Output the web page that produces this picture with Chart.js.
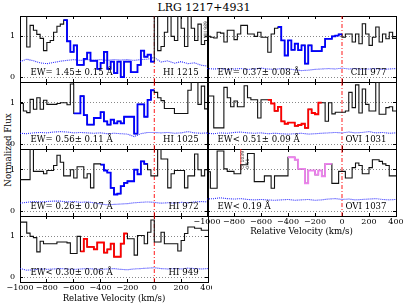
<!DOCTYPE html>
<html><head><meta charset="utf-8">
<script src="https://cdn.jsdelivr.net/npm/chart.js@4/dist/chart.umd.min.js"></script>
<style>
body{margin:0;background:#fff;}
#wrap{position:relative;width:407px;height:305px;overflow:hidden;font-family:"DejaVu Serif",serif;background:#fff;}
canvas{position:absolute;}
#title{position:absolute;left:0;top:1px;width:408px;text-align:center;font-size:11px;line-height:13px;color:#000;}
#ylab{position:absolute;left:-52px;top:144px;width:120px;height:12px;line-height:12px;text-align:center;font-size:8.7px;transform:rotate(-90deg);color:#000;}
</style></head>
<body><div id="wrap">
<div id="title">LRG 1217+4931</div>
<div id="ylab">Normalized Flux</div>
</div>
<script>
// ---- data ----
const velStart = -1000, velEnd = 400, binWidth = 25, errStep = 50;
const yMin = -0.12, yMax = 1.5;
const xTicks = [-1000,-800,-600,-400,-200,0,200,400];
const yTicks = [0,1];

const fluxHI1215 = [1.6,1.6,0.74,1.27,1.15,1.05,0.95,0.65,0.85,0.9,1.1,1.25,1.3,1.4,0.88,0.62,0.78,0.3,0.3,0.45,0.6,0.4,0.4,0.2,0.35,0.62,0.2,0.38,0.1,0.38,0.0,0.38,0.38,0.12,0.12,0.3,0.65,0.5,0.55,0.38,1.6,0.65,0.75,1.1,1.55,1.0,0.9,1.55,1.2,0.75,1.55,1.2,0.9,1.3,0.8,0.9];
const fluxHI1025 = [0.98,0.8,0.76,1.08,0.84,1.12,0.84,1.06,0.96,0.96,0.96,0.98,1.0,1.0,0.95,1.45,0.74,0.74,1.16,0.7,0.47,0.47,0.63,0.63,0.77,0.55,0.47,0.59,0.5,0.55,0.5,0.66,0.66,0.66,0.25,0.96,0.96,0.66,1.07,1.3,1.25,1.12,1.05,0.86,0.86,0.86,0.74,0.74,0.74,0.74,1.3,1.55,1.55,0.96,1.4,0.85];
const fluxHI972 = [0.76,0.76,0.76,1.5,0.96,0.96,0.96,0.9,0.98,0.98,1.1,1.35,1.18,0.85,0.85,1.0,0.8,1.07,1.07,0.8,0.9,0.56,1.14,1.14,1.12,0.98,0.93,0.56,0.4,0.42,0.6,0.68,0.72,0.72,1.0,0.89,1.2,1.14,1.0,0.85,0.85,1.5,1.26,1.26,0.56,0.9,0.98,0.98,0.98,0.56,0.85,0.85,1.38,1.0,0.85,1.0];
const fluxHI949 = [1.35,1.35,1.08,1.0,0.97,0.62,0.88,0.82,0.82,0.82,0.82,0.86,0.86,0.86,0.84,0.58,0.58,1.0,0.63,0.94,0.74,0.74,0.68,0.85,0.85,0.6,0.68,0.82,0.5,0.5,0.82,1.07,0.94,0.94,0.54,1.02,1.02,0.82,1.1,1.4,0.86,0.86,1.1,0.82,0.82,0.82,0.82,0.64,0.9,1.07,1.23,1.23,1.2,1.2,1.15,1.15];
const fluxCIII977 = [1.0,0.98,0.96,1.1,1.08,0.86,1.15,1.15,0.92,1.06,1.27,1.27,1.06,1.06,1.0,1.1,0.98,0.98,0.61,1.06,1.2,1.23,0.9,0.53,0.9,0.67,0.82,0.66,0.78,0.33,0.78,0.64,0.64,0.64,0.74,0.94,0.94,1.0,1.02,1.05,0.98,1.06,1.06,0.86,1.06,0.82,1.31,1.06,0.78,0.98,1.23,0.86,1.06,0.94,1.1,0.95];
const fluxOVI1031 = [1.16,1.16,0.39,0.39,0.39,1.37,1.12,0.9,1.04,0.9,0.9,1.41,1.12,1.07,1.07,0.63,1.07,1.07,1.07,0.98,0.8,0.9,0.55,0.49,0.52,0.52,0.44,0.46,0.49,0.39,0.84,0.75,0.72,1.0,1.0,0.55,1.0,0.73,0.77,0.77,0.77,0.8,1.25,0.88,1.43,0.75,1.33,0.96,0.8,0.8,1.49,0.72,0.72,0.88,0.9,0.8];
const fluxOVI1037 = [0.95,0.55,0.55,1.45,1.45,1.02,0.96,0.96,0.9,0.9,1.12,1.12,1.39,1.39,0.71,0.71,0.71,0.85,0.85,0.55,0.85,0.85,0.85,0.85,1.3,1.3,1.24,1.02,1.02,0.67,0.98,0.98,0.88,0.98,0.84,1.14,1.14,0.67,0.67,0.96,0.96,0.8,0.8,1.05,1.16,1.1,0.9,0.9,1.05,1.24,1.24,1.2,1.14,1.1,0.85,0.85];

const errHI1215 = [0.38,0.44,0.40,0.35,0.33,0.36,0.39,0.41,0.43,0.41,0.43,0.42,0.43,0.41,0.43,0.42,0.43,0.41,0.43,0.44,0.48,0.37,0.40,0.34,0.38,0.33,0.35,0.29,0.27];
const errHI1025 = [0.26,0.25,0.27,0.28,0.27,0.29,0.30,0.29,0.27,0.28,0.27,0.26,0.27,0.25,0.26,0.25,0.24,0.18,0.25,0.28,0.28,0.27,0.28,0.26,0.27,0.30,0.27,0.26,0.27];
const errHI972 = [0.19,0.21,0.23,0.22,0.23,0.24,0.24,0.22,0.23,0.21,0.22,0.20,0.17,0.15,0.16,0.17,0.18,0.20,0.21,0.22,0.21,0.19,0.20,0.19,0.21,0.20,0.22,0.23,0.22];
const errHI949 = [0.21,0.17,0.18,0.20,0.19,0.20,0.21,0.20,0.19,0.20,0.21,0.20,0.19,0.20,0.21,0.19,0.18,0.20,0.21,0.22,0.23,0.21,0.20,0.21,0.20,0.22,0.21,0.20,0.21];
const errCIII977 = [0.21,0.20,0.21,0.19,0.20,0.21,0.19,0.20,0.22,0.20,0.19,0.21,0.20,0.18,0.16,0.17,0.19,0.20,0.21,0.20,0.22,0.20,0.21,0.19,0.20,0.21,0.19,0.20,0.21];
const errOVI1031 = [0.26,0.25,0.27,0.26,0.28,0.29,0.27,0.26,0.27,0.25,0.26,0.25,0.24,0.25,0.26,0.24,0.25,0.26,0.27,0.28,0.27,0.29,0.27,0.28,0.30,0.27,0.28,0.26,0.27];
const errOVI1037 = [0.29,0.30,0.32,0.30,0.29,0.30,0.28,0.27,0.28,0.27,0.26,0.27,0.28,0.26,0.27,0.28,0.26,0.27,0.29,0.30,0.28,0.29,0.27,0.28,0.29,0.30,0.28,0.27,0.28];

const lineNames = ['HI 1215','HI 1025','HI 972','HI 949','CIII 977','OVI 1031','OVI 1037'];
const ewLabels = ['EW= 1.45\u00b1 0.15 \u00c5','EW= 0.56\u00b1 0.11 \u00c5','EW= 0.26\u00b1 0.07 \u00c5','EW< 0.30\u00b1 0.06 \u00c5','EW= 0.37\u00b1 0.08 \u00c5','EW< 0.51\u00b1 0.09 \u00c5','EW< 0.19 \u00c5'];
const hlStart = [-675,-600,-400,-550,-475,-550,-400];
const hlEnd = [0,0,-50,-200,0,-150,-75];
const markerPanel = [6];
const markerVel = [-750];
const markerFrom = [1.0];
const markerLabel1 = ['OI 1039'];
const markerLabel2 = ['0.51'];

// ---- layout / style ----
const FONT = '"DejaVu Serif", serif';
const colLeft = [20,207], colWidth = [188,189];
const rowTop = [16,82,149,216], rowH = [66,67,67,66];
const panels = [
  {flux:fluxHI1215, err:errHI1215, col:0, row:0, color:'#0000ff'},
  {flux:fluxHI1025, err:errHI1025, col:0, row:1, color:'#0000ff'},
  {flux:fluxHI972, err:errHI972, col:0, row:2, color:'#0000ff'},
  {flux:fluxHI949, err:errHI949, col:0, row:3, color:'#ff0000'},
  {flux:fluxCIII977, err:errCIII977, col:1, row:0, color:'#0000ff'},
  {flux:fluxOVI1031, err:errOVI1031, col:1, row:1, color:'#ff0000'},
  {flux:fluxOVI1037, err:errOVI1037, col:1, row:2, color:'#ee82ee'}
];

function stepPoints(flux, from, to){
  const pts = [];
  flux.forEach((f,k)=>{ const v = velStart + k*binWidth; if (v >= from && v < to) pts.push({x:v, y:f}); });
  pts.push({x:to, y:pts[pts.length-1].y});
  return pts;
}
function fmt(v){ return v < 0 ? '\u2212' + Math.abs(v) : String(v); }

const textPlugin = {
  id:'panelText',
  afterDatasetsDraw(chart, args, o){
    const {ctx} = chart; const x = chart.scales.x, y = chart.scales.y;
    ctx.save();
    ctx.fillStyle = '#000';
    ctx.font = '8.6px ' + FONT;
    ctx.textBaseline = 'alphabetic';
    ctx.textAlign = 'left';
    ctx.fillText(o.ew, x.getPixelForValue(-922), y.getPixelForValue(0.04));
    ctx.textAlign = 'right';
    ctx.fillText(o.name, x.getPixelForValue(330), y.getPixelForValue(0.04));
    (o.markers||[]).forEach(m=>{
      ctx.save();
      ctx.font = '4.5px "DejaVu Sans", sans-serif';
      ctx.fillStyle = '#333';
      ctx.translate(x.getPixelForValue(m.vel) + 3.5, y.getPixelForValue(m.from) - 1);
      ctx.rotate(-Math.PI/2);
      ctx.textAlign = 'left';
      ctx.fillText(m.l1, 0, 0);
      ctx.fillText(m.l2, 0, 5);
      ctx.restore();
    });
    if (o.edgeText) {
      ctx.save();
      ctx.font = '4.5px "DejaVu Sans", sans-serif';
      ctx.fillStyle = '#333';
      ctx.translate(x.getPixelForValue(velStart) - 0.5, y.getPixelForValue(0.95));
      ctx.rotate(-Math.PI/2);
      ctx.textAlign = 'left';
      ctx.fillText(o.edgeText, 0, 0);
      ctx.restore();
    }
    ctx.restore();
  }
};

const wrap = document.getElementById('wrap');
panels.forEach((p, i)=>{
  const isBottom = (p.col===0 && p.row===3) || (p.col===1 && p.row===2);
  const padL = p.col===0 ? 20 : 16;
  const padR = p.col===0 ? 4 : 10;
  const padT = 3;
  const padB = isBottom ? (p.col===0 ? 23 : 22) : 3;
  const W = colWidth[p.col] + padL + padR;
  const H = rowH[p.row] + padT + padB;
  const c = document.createElement('canvas');
  c.width = W; c.height = H;
  c.style.left = (colLeft[p.col]-padL)+'px';
  c.style.top = (rowTop[p.row]-padT)+'px';
  c.style.width = W+'px'; c.style.height = H+'px';
  wrap.appendChild(c);

  const datasets = [
    {data: stepPoints(p.flux, hlStart[i], hlEnd[i]), stepped:'before', borderColor:p.color, borderWidth:1.8, order:0},
    {data: stepPoints(p.flux, velStart, velEnd), stepped:'before', borderColor:'#111', borderWidth:1.1, order:1},
    {data: p.err.map((e,j)=>({x: velStart + j*errStep, y: e})), borderColor:'rgba(20,20,255,0.9)', borderWidth:1.1, borderDash:[1,1], order:2},
    {data: [{x:0, y:yMin},{x:0, y:yMax}], borderColor:'rgba(255,0,0,0.9)', borderWidth:1, borderDash:[4,2,1,2], order:3}
  ];
  const markers = [];
  markerPanel.forEach((mp, m)=>{
    if (mp === i) {
      datasets.push({data:[{x:markerVel[m], y:markerFrom[m]},{x:markerVel[m], y:yMax}], borderColor:'rgba(255,0,0,0.8)', borderWidth:1, order:4});
      markers.push({vel:markerVel[m], from:markerFrom[m], l1:markerLabel1[m], l2:markerLabel2[m]});
    }
  });
  datasets.forEach(d=>{ d.pointRadius = 0; d.fill = false; d.tension = 0; });

  const setTicks = vals => s => { s.ticks = vals.map(v=>({value:v})); };
  const zeroPad = s => { s.paddingLeft = 0; s.paddingRight = 0; s.paddingTop = 0; s.paddingBottom = 0; };
  const tickGrid = {display:true, drawOnChartArea:false, drawTicks:true, tickLength:-3, tickColor:'#000', tickWidth:1};
  const border = {display:true, color:'#000', width:1};

  new Chart(c, {
    type:'line',
    data:{datasets},
    options:{
      responsive:false, animation:false, devicePixelRatio:1, events:[],
      layout:{padding:0},
      plugins:{legend:{display:false}, tooltip:{enabled:false}, title:{display:false},
        panelText:{ew:ewLabels[i], name:lineNames[i], markers, edgeText: i===4 ? 'NIII 989' : null}},
      scales:{
        x:{type:'linear', position:'bottom', min:velStart, max:velEnd,
          afterBuildTicks:setTicks(xTicks),
          afterFit:s=>{ s.height = padB; zeroPad(s); },
          ticks:{display:isBottom, autoSkip:false, maxRotation:0, padding:4.5, color:'#000', font:{family:FONT, size:8}, callback:v=>fmt(v)},
          grid:tickGrid, border:border,
          title:{display:isBottom, text:'Relative Velocity (km/s)', color:'#000', font:{family:FONT, size:8.6}, padding:{top:0, bottom:1}}
        },
        x2:{type:'linear', position:'top', min:velStart, max:velEnd,
          afterBuildTicks:setTicks(xTicks),
          afterFit:s=>{ s.height = padT; zeroPad(s); },
          ticks:{display:false}, grid:tickGrid, border:border
        },
        y:{type:'linear', position:'left', min:yMin, max:yMax,
          afterBuildTicks:setTicks(yTicks),
          afterFit:s=>{ s.width = padL; zeroPad(s); },
          ticks:{display:p.col===0, padding:8, color:'#000', font:{family:FONT, size:8}},
          grid:{display:true, drawOnChartArea:true, color:'#888', lineWidth:1, drawTicks:true, tickLength:-3, tickColor:'#000', tickWidth:1, tickBorderDash:[]},
          border:{display:true, color:'#000', width:1, dash:[1,2]}
        },
        y2:{type:'linear', position:'right', min:yMin, max:yMax,
          afterBuildTicks:setTicks(yTicks),
          afterFit:s=>{ s.width = padR; zeroPad(s); },
          ticks:{display:false}, grid:tickGrid, border:border
        }
      }
    },
    plugins:[textPlugin]
  });
});
</script>
</body></html>
